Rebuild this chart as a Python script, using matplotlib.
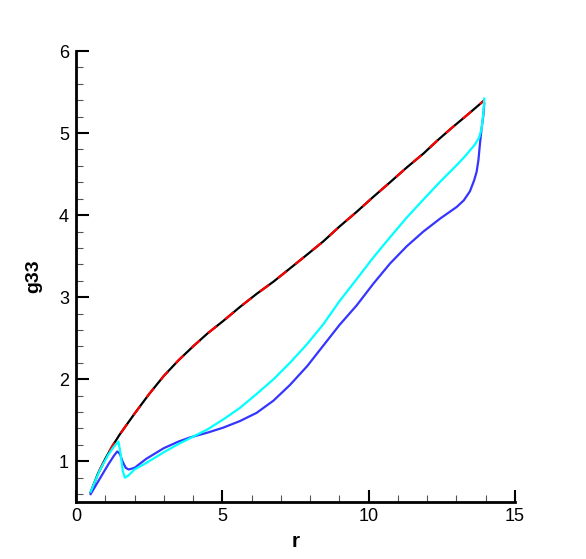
import numpy as np
import matplotlib.pyplot as plt
from matplotlib.ticker import MultipleLocator

plt.rcParams['font.family'] = ['Liberation Sans', 'DejaVu Sans']

# upper curve (black solid + red dashed on top, same values)
r_top = [0.5, 0.75, 1.0, 1.25, 1.5, 2.0, 2.5, 3.0, 3.5, 4.0, 4.5, 5.03, 5.6,
         6.17, 6.75, 7.31, 7.9, 8.45, 9.0, 9.59, 10.15, 10.73, 11.3, 11.87,
         12.35, 12.83, 13.4, 13.92]
g_top = [0.62, 0.85, 1.03, 1.19, 1.33, 1.58, 1.82, 2.04, 2.23, 2.40, 2.56,
         2.71, 2.88, 3.04, 3.19, 3.35, 3.52, 3.68, 3.86, 4.04, 4.22, 4.40,
         4.58, 4.75, 4.91, 5.06, 5.23, 5.39]

# cyan curve
r_cyan = [0.5, 0.8, 1.1, 1.3, 1.45, 1.52, 1.6, 1.67, 1.8, 2.0, 2.4, 3.0, 3.5,
          3.89, 4.5, 5.03, 5.6, 6.17, 6.75, 7.31, 7.9, 8.45, 9.0, 9.59,
          10.15, 10.73, 11.3, 11.87, 12.45, 13.01, 13.3, 13.63, 13.78, 13.86,
          13.92, 13.95]
g_cyan = [0.63, 0.88, 1.08, 1.18, 1.24, 1.1, 0.88, 0.80, 0.83, 0.90, 0.98,
          1.11, 1.21, 1.28, 1.39, 1.51, 1.65, 1.82, 2.00, 2.20, 2.43, 2.67,
          2.95, 3.22, 3.48, 3.73, 3.97, 4.19, 4.41, 4.61, 4.72, 4.86, 4.95,
          5.06, 5.25, 5.42]

# blue curve
r_blue = [0.5, 0.8, 1.1, 1.3, 1.41, 1.5, 1.6, 1.7, 1.8, 2.0, 2.4, 3.0, 3.5,
          3.89, 4.5, 5.03, 5.6, 6.17, 6.75, 7.31, 7.9, 8.45, 9.0, 9.59,
          10.15, 10.73, 11.3, 11.87, 12.45, 13.01, 13.25, 13.46, 13.6, 13.69,
          13.75, 13.80, 13.86, 13.92, 13.95]
g_blue = [0.60, 0.78, 0.96, 1.07, 1.12, 1.09, 0.99, 0.92, 0.90, 0.92, 1.03,
          1.16, 1.24, 1.29, 1.35, 1.41, 1.49, 1.59, 1.74, 1.93, 2.16, 2.41,
          2.66, 2.90, 3.16, 3.41, 3.62, 3.80, 3.96, 4.10, 4.18, 4.29, 4.42,
          4.53, 4.67, 4.86, 5.06, 5.22, 5.36]

fig = plt.figure(figsize=(5.86, 5.59), dpi=100)
ax = fig.add_axes([76 / 586, 1 - 501.5 / 559, (515 - 76) / 586, (501.5 - 51) / 559])

ax.plot(r_top, g_top, color='black', lw=1.6)
ax.plot(r_top, g_top, color='red', lw=1.6, dashes=(5, 5))
ax.plot(r_blue, g_blue, color='#3535ff', lw=1.6)
ax.plot(r_cyan, g_cyan, color='#00ffff', lw=1.6)

ax.set_xlim(0, 15)
ax.set_ylim(0.51, 6)
ax.xaxis.set_major_locator(MultipleLocator(5))
ax.xaxis.set_minor_locator(MultipleLocator(1))
ax.yaxis.set_major_locator(MultipleLocator(1))
ax.yaxis.set_minor_locator(MultipleLocator(0.2))

ax.spines['top'].set_visible(False)
ax.spines['right'].set_visible(False)
ax.spines['left'].set_linewidth(2)
ax.spines['bottom'].set_linewidth(2)

ax.tick_params(which='major', direction='in', length=9, width=1.5,
               labelsize=13, pad=5)
ax.tick_params(which='minor', direction='in', length=5, width=0.8,
               color='#555555')

ax.set_xlabel('r', fontsize=15, fontweight='bold', labelpad=5)
ax.set_ylabel('g33', fontsize=14, fontweight='bold', labelpad=12)

fig.savefig('out.png', dpi=100)
